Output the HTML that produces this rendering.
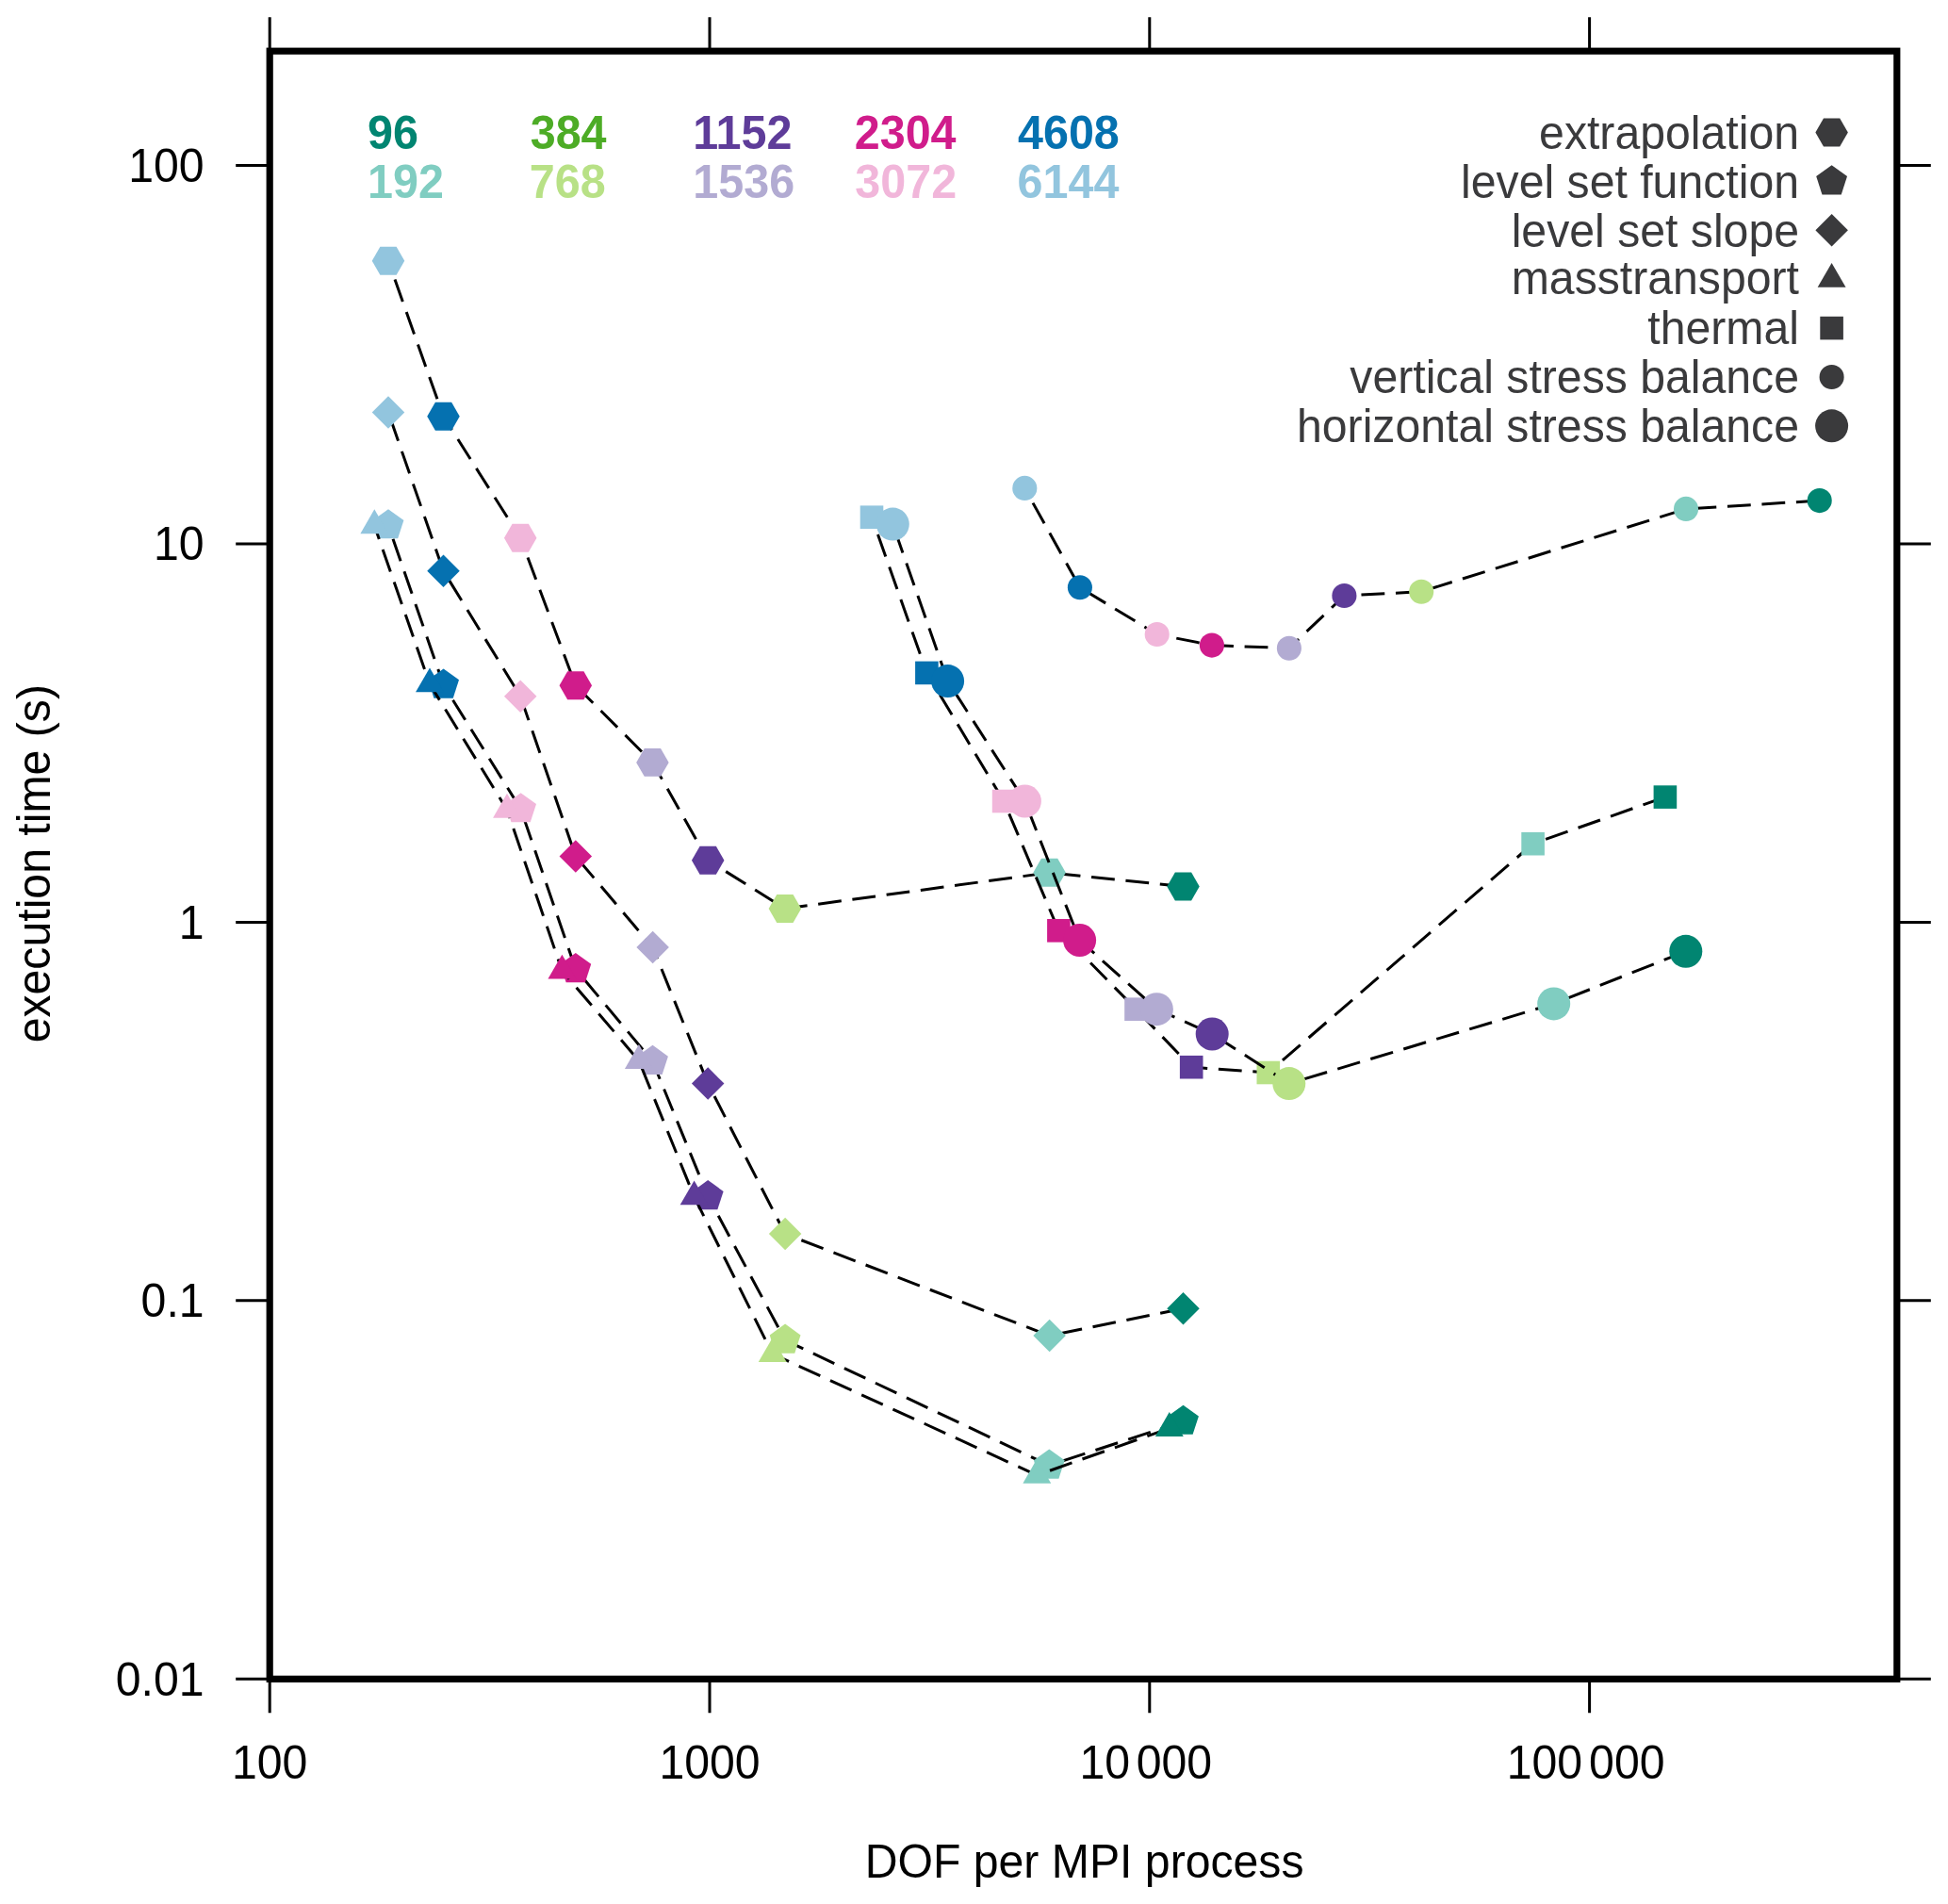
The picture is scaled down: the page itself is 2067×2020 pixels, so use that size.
<!DOCTYPE html><html><head><meta charset="utf-8"><style>html,body{margin:0;padding:0;background:#fff;overflow:hidden;width:2067px;height:2020px;}svg{display:block}text{font-family:"Liberation Sans",Arial,Helvetica,sans-serif}</style></head><body>
<svg width="2067" height="2020" viewBox="0 0 2067 2020">
<rect width="2067" height="2020" fill="#fff"/>
<polyline points="1255.5,940.5 1113.6,925.8 832.9,964 751.2,912.7 692.4,808.9 610.8,727.3 552.2,570.7 470.5,441.8 412,276.8" fill="none" stroke="#000" stroke-width="3" stroke-dasharray="24.85 11.7" stroke-linecap="butt" stroke-linejoin="round"/>
<polygon points="1272.75,940.5 1264.12,955.44 1246.88,955.44 1238.25,940.5 1246.88,925.56 1264.12,925.56" fill="#018571"/>
<polygon points="1130.85,925.8 1122.22,940.74 1104.97,940.74 1096.35,925.8 1104.97,910.86 1122.22,910.86" fill="#80cdc1"/>
<polygon points="850.15,964 841.52,978.94 824.27,978.94 815.65,964 824.27,949.06 841.52,949.06" fill="#b8e186"/>
<polygon points="768.45,912.7 759.83,927.64 742.58,927.64 733.95,912.7 742.58,897.76 759.83,897.76" fill="#5e3c99"/>
<polygon points="709.65,808.9 701.02,823.84 683.77,823.84 675.15,808.9 683.77,793.96 701.02,793.96" fill="#b2abd2"/>
<polygon points="628.05,727.3 619.42,742.24 602.17,742.24 593.55,727.3 602.17,712.36 619.42,712.36" fill="#d01c8b"/>
<polygon points="569.45,570.7 560.83,585.64 543.58,585.64 534.95,570.7 543.58,555.76 560.83,555.76" fill="#f1b6da"/>
<polygon points="487.75,441.8 479.12,456.74 461.88,456.74 453.25,441.8 461.88,426.86 479.12,426.86" fill="#0571b0"/>
<polygon points="429.25,276.8 420.62,291.74 403.38,291.74 394.75,276.8 403.38,261.86 420.62,261.86" fill="#92c5de"/>
<polyline points="1255.5,1507.9 1113.3,1554.7 833.1,1421.8 751.2,1269.3 692.5,1126 610.8,1028.2 552.6,858.4 470.6,726.7 412,557.4" fill="none" stroke="#000" stroke-width="3" stroke-dasharray="24.85 11.7" stroke-linecap="butt" stroke-linejoin="round"/>
<polygon points="1255.5,1490.65 1271.91,1502.57 1265.64,1521.86 1245.36,1521.86 1239.09,1502.57" fill="#018571"/>
<polygon points="1113.3,1537.45 1129.71,1549.37 1123.44,1568.66 1103.16,1568.66 1096.89,1549.37" fill="#80cdc1"/>
<polygon points="833.1,1404.55 849.51,1416.47 843.24,1435.76 822.96,1435.76 816.69,1416.47" fill="#b8e186"/>
<polygon points="751.2,1252.05 767.61,1263.97 761.34,1283.26 741.06,1283.26 734.79,1263.97" fill="#5e3c99"/>
<polygon points="692.5,1108.75 708.91,1120.67 702.64,1139.96 682.36,1139.96 676.09,1120.67" fill="#b2abd2"/>
<polygon points="610.8,1010.95 627.21,1022.87 620.94,1042.16 600.66,1042.16 594.39,1022.87" fill="#d01c8b"/>
<polygon points="552.6,841.15 569.01,853.07 562.74,872.36 542.46,872.36 536.19,853.07" fill="#f1b6da"/>
<polygon points="470.6,709.45 487.01,721.37 480.74,740.66 460.46,740.66 454.19,721.37" fill="#0571b0"/>
<polygon points="412,540.15 428.41,552.07 422.14,571.36 401.86,571.36 395.59,552.07" fill="#92c5de"/>
<polyline points="1255.5,1388.2 1113.6,1417.1 833.1,1309.1 751.2,1149.6 692.6,1005 610.8,908.5 552.2,738.7 470.5,605.7 412,437.5" fill="none" stroke="#000" stroke-width="3" stroke-dasharray="24.85 11.7" stroke-linecap="butt" stroke-linejoin="round"/>
<polygon points="1255.5,1370.95 1272.75,1388.2 1255.5,1405.45 1238.25,1388.2" fill="#018571"/>
<polygon points="1113.6,1399.85 1130.85,1417.1 1113.6,1434.35 1096.35,1417.1" fill="#80cdc1"/>
<polygon points="833.1,1291.85 850.35,1309.1 833.1,1326.35 815.85,1309.1" fill="#b8e186"/>
<polygon points="751.2,1132.35 768.45,1149.6 751.2,1166.85 733.95,1149.6" fill="#5e3c99"/>
<polygon points="692.6,987.75 709.85,1005 692.6,1022.25 675.35,1005" fill="#b2abd2"/>
<polygon points="610.8,891.25 628.05,908.5 610.8,925.75 593.55,908.5" fill="#d01c8b"/>
<polygon points="552.2,721.45 569.45,738.7 552.2,755.95 534.95,738.7" fill="#f1b6da"/>
<polygon points="470.5,588.45 487.75,605.7 470.5,622.95 453.25,605.7" fill="#0571b0"/>
<polygon points="412,420.25 429.25,437.5 412,454.75 394.75,437.5" fill="#92c5de"/>
<polyline points="1240.8,1515.3 1100.3,1565.1 819.7,1436.5 736.6,1269.7 677.9,1125.3 596.4,1029.9 538,859.1 456,725.7 397.3,557.6" fill="none" stroke="#000" stroke-width="3" stroke-dasharray="24.85 11.7" stroke-linecap="butt" stroke-linejoin="round"/>
<polygon points="1240.8,1498.05 1255.74,1523.92 1225.86,1523.92" fill="#018571"/>
<polygon points="1100.3,1547.85 1115.24,1573.72 1085.36,1573.72" fill="#80cdc1"/>
<polygon points="819.7,1419.25 834.64,1445.12 804.76,1445.12" fill="#b8e186"/>
<polygon points="736.6,1252.45 751.54,1278.33 721.66,1278.33" fill="#5e3c99"/>
<polygon points="677.9,1108.05 692.84,1133.92 662.96,1133.92" fill="#b2abd2"/>
<polygon points="596.4,1012.65 611.34,1038.53 581.46,1038.53" fill="#d01c8b"/>
<polygon points="538,841.85 552.94,867.73 523.06,867.73" fill="#f1b6da"/>
<polygon points="456,708.45 470.94,734.33 441.06,734.33" fill="#0571b0"/>
<polygon points="397.3,540.35 412.24,566.23 382.36,566.23" fill="#92c5de"/>
<polyline points="1766.9,845.6 1626.6,895.2 1345.8,1138 1264.2,1132.2 1205.5,1070.7 1123.4,987.3 1065.1,850 983.4,713.9 925,548.7" fill="none" stroke="#000" stroke-width="3" stroke-dasharray="24.85 11.7" stroke-linecap="butt" stroke-linejoin="round"/>
<rect x="1754.6" y="833.3" width="24.6" height="24.6" fill="#018571"/>
<rect x="1614.3" y="882.9" width="24.6" height="24.6" fill="#80cdc1"/>
<rect x="1333.5" y="1125.7" width="24.6" height="24.6" fill="#b8e186"/>
<rect x="1251.9" y="1119.9" width="24.6" height="24.6" fill="#5e3c99"/>
<rect x="1193.2" y="1058.4" width="24.6" height="24.6" fill="#b2abd2"/>
<rect x="1111.1" y="975" width="24.6" height="24.6" fill="#d01c8b"/>
<rect x="1052.8" y="837.7" width="24.6" height="24.6" fill="#f1b6da"/>
<rect x="971.1" y="701.6" width="24.6" height="24.6" fill="#0571b0"/>
<rect x="912.7" y="536.4" width="24.6" height="24.6" fill="#92c5de"/>
<polyline points="1930.7,531.1 1789,539.9 1508.2,627.7 1426.4,632 1367.9,687.7 1285.9,684.6 1227.7,673 1145.9,623.3 1087.3,517.9" fill="none" stroke="#000" stroke-width="3" stroke-dasharray="24.85 11.7" stroke-linecap="butt" stroke-linejoin="round"/>
<circle cx="1930.7" cy="531.1" r="13.05" fill="#018571"/>
<circle cx="1789" cy="539.9" r="13.05" fill="#80cdc1"/>
<circle cx="1508.2" cy="627.7" r="13.05" fill="#b8e186"/>
<circle cx="1426.4" cy="632" r="13.05" fill="#5e3c99"/>
<circle cx="1367.9" cy="687.7" r="13.05" fill="#b2abd2"/>
<circle cx="1285.9" cy="684.6" r="13.05" fill="#d01c8b"/>
<circle cx="1227.7" cy="673" r="13.05" fill="#f1b6da"/>
<circle cx="1145.9" cy="623.3" r="13.05" fill="#0571b0"/>
<circle cx="1087.3" cy="517.9" r="13.05" fill="#92c5de"/>
<polyline points="1788.8,1009.3 1648.7,1064.9 1367.8,1149.6 1286.2,1097 1227.4,1070.7 1145.6,997.5 1087.4,850 1005.6,722.6 947.3,556.1" fill="none" stroke="#000" stroke-width="3" stroke-dasharray="24.85 11.7" stroke-linecap="butt" stroke-linejoin="round"/>
<circle cx="1788.8" cy="1009.3" r="17.5" fill="#018571"/>
<circle cx="1648.7" cy="1064.9" r="17.5" fill="#80cdc1"/>
<circle cx="1367.8" cy="1149.6" r="17.5" fill="#b8e186"/>
<circle cx="1286.2" cy="1097" r="17.5" fill="#5e3c99"/>
<circle cx="1227.4" cy="1070.7" r="17.5" fill="#b2abd2"/>
<circle cx="1145.6" cy="997.5" r="17.5" fill="#d01c8b"/>
<circle cx="1087.4" cy="850" r="17.5" fill="#f1b6da"/>
<circle cx="1005.6" cy="722.6" r="17.5" fill="#0571b0"/>
<circle cx="947.3" cy="556.1" r="17.5" fill="#92c5de"/>
<rect x="286.2" y="54.2" width="1726.6" height="1727.1" fill="none" stroke="#000" stroke-width="7.2"/>
<path d="M286.2 1781.3V1817.3 M286.2 54.2V18.2 M753 1781.3V1817.3 M753 54.2V18.2 M1219.8 1781.3V1817.3 M1219.8 54.2V18.2 M1686.6 1781.3V1817.3 M1686.6 54.2V18.2 M286.2 1781.2H250.2 M2012.8 1781.2H2048.8 M286.2 1379.8H250.2 M2012.8 1379.8H2048.8 M286.2 978.4H250.2 M2012.8 978.4H2048.8 M286.2 577H250.2 M2012.8 577H2048.8 M286.2 175.6H250.2 M2012.8 175.6H2048.8" stroke="#000" stroke-width="3" fill="none"/>
<text transform="translate(216.6 192.9) scale(1 1.04)" font-size="48.2" text-anchor="end">100</text>
<text transform="translate(216.6 594.3) scale(1 1.04)" font-size="48.2" text-anchor="end">10</text>
<text transform="translate(216.6 995.7) scale(1 1.04)" font-size="48.2" text-anchor="end">1</text>
<text transform="translate(216.6 1397.1) scale(1 1.04)" font-size="48.2" text-anchor="end">0.1</text>
<text transform="translate(216.6 1798.5) scale(1 1.04)" font-size="48.2" text-anchor="end">0.01</text>
<text transform="translate(286.2 1886.8) scale(1 1.04)" font-size="48.2" text-anchor="middle">100</text>
<text transform="translate(753 1886.8) scale(1 1.04)" font-size="48.2" text-anchor="middle">1000</text>
<text transform="translate(1145.5 1886.8) scale(1 1.04)" font-size="48.2">10<tspan dx="6.6">000</tspan></text>
<text transform="translate(1598.7 1886.8) scale(1 1.04)" font-size="48.2">100<tspan dx="7">000</tspan></text>
<text transform="translate(1150.6 1991.6) scale(1 1.04)" font-size="48.2" text-anchor="middle">DOF per MPI process</text>
<text transform="translate(52.7 916.2) rotate(-90) scale(1 1.04)" font-size="48.2" text-anchor="middle">execution time (s)</text>
<text transform="translate(390.1 158.1) scale(1 1.04)" font-size="48.5" fill="#018571" font-weight="bold">96</text>
<text transform="translate(390.04 210) scale(1 1.04)" font-size="48.5" fill="#80cdc1" font-weight="bold">192</text>
<text transform="translate(562.68 158.1) scale(1 1.04)" font-size="48.5" fill="#4dac26" font-weight="bold">384</text>
<text transform="translate(561.71 210) scale(1 1.04)" font-size="48.5" fill="#b8e186" font-weight="bold">768</text>
<text transform="translate(735.24 158.1) scale(1 1.04)" font-size="48.5" fill="#5e3c99" font-weight="bold">1152</text>
<text transform="translate(735.24 210) scale(1 1.04)" font-size="48.5" fill="#b2abd2" font-weight="bold">1536</text>
<text transform="translate(906.7 158.1) scale(1 1.04)" font-size="48.5" fill="#d01c8b" font-weight="bold">2304</text>
<text transform="translate(907.28 210) scale(1 1.04)" font-size="48.5" fill="#f1b6da" font-weight="bold">3072</text>
<text transform="translate(1079.97 158.1) scale(1 1.04)" font-size="48.5" fill="#0571b0" font-weight="bold">4608</text>
<text transform="translate(1079.51 210) scale(1 1.04)" font-size="48.5" fill="#92c5de" font-weight="bold">6144</text>
<text transform="translate(1909 157.83) scale(1 1.04)" font-size="48.2" text-anchor="end" fill="#3a3a3c">extrapolation</text>
<polygon points="1960.85,140.53 1952.22,155.47 1934.97,155.47 1926.35,140.53 1934.97,125.59 1952.22,125.59" fill="#3a3a3c"/>
<text transform="translate(1909 209.72) scale(1 1.04)" font-size="48.2" text-anchor="end" fill="#3a3a3c">level set function</text>
<polygon points="1943.6,175.17 1960.01,187.09 1953.74,206.38 1933.46,206.38 1927.19,187.09" fill="#3a3a3c"/>
<text transform="translate(1909 261.61) scale(1 1.04)" font-size="48.2" text-anchor="end" fill="#3a3a3c">level set slope</text>
<polygon points="1943.6,227.06 1960.85,244.31 1943.6,261.56 1926.35,244.31" fill="#3a3a3c"/>
<text transform="translate(1909 312.3) scale(1 1.04)" font-size="48.2" text-anchor="end" fill="#3a3a3c">masstransport</text>
<polygon points="1943.6,278.95 1958.54,304.83 1928.66,304.83" fill="#3a3a3c"/>
<text transform="translate(1909 365.39) scale(1 1.04)" font-size="48.2" text-anchor="end" fill="#3a3a3c">thermal</text>
<rect x="1931.3" y="335.79" width="24.6" height="24.6" fill="#3a3a3c"/>
<text transform="translate(1909 417.28) scale(1 1.04)" font-size="48.2" text-anchor="end" fill="#3a3a3c">vertical stress balance</text>
<circle cx="1943.6" cy="399.98" r="13.05" fill="#3a3a3c"/>
<text transform="translate(1909 469.17) scale(1 1.04)" font-size="48.2" text-anchor="end" fill="#3a3a3c">horizontal stress balance</text>
<circle cx="1943.6" cy="451.87" r="17.5" fill="#3a3a3c"/>
</svg></body></html>
